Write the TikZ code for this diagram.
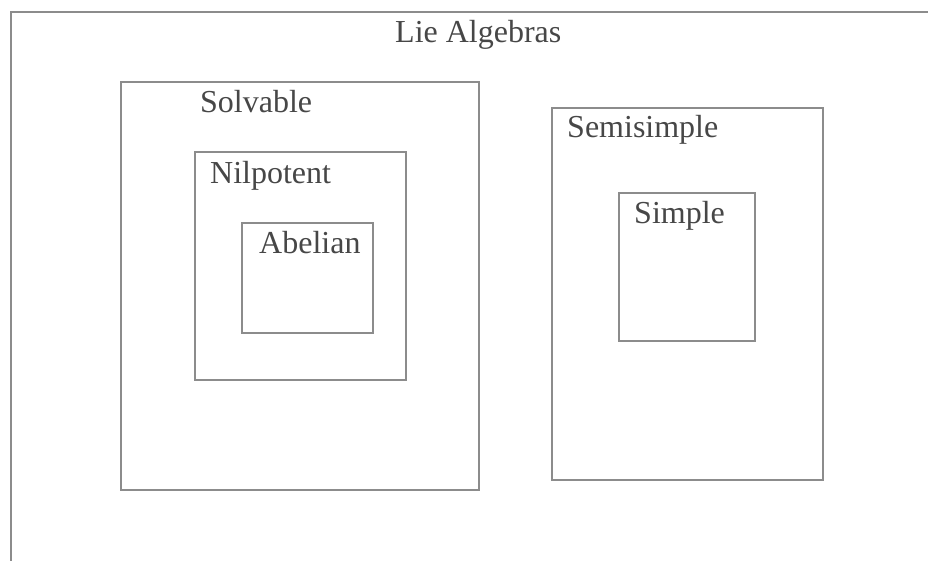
\documentclass[tikz,border=0pt]{standalone}
\usepackage{fontspec}
\setmainfont{Liberation Serif}
\definecolor{boxgray}{HTML}{8C8C8C}
\definecolor{textgray}{HTML}{474747}
\tikzset{
  setbox/.style={draw=boxgray, line width=1.4pt},
  setlabel/.style={inner sep=0pt, anchor=base west, text=textgray, font=\fontsize{32}{38}\selectfont}
}
\begin{document}
\begin{tikzpicture}[x=1pt,y=-1pt]
\useasboundingbox (0,0) rectangle (928,560);
\fill[white] (0,0) rectangle (928,560);
\begin{scope}
  \clip (0,0) rectangle (928,560);
  \draw[setbox] (11,12) rectangle (940,575);
\end{scope}
\draw[setbox] (121,82) rectangle (479,490);
\draw[setbox] (195,152) rectangle (406,380);
\draw[setbox] (242,223) rectangle (373,333);
\draw[setbox] (552,108) rectangle (823,480);
\draw[setbox] (619,193) rectangle (755,341);
\node[setlabel] (lie) at (395,42) {Lie Algebras};
\node[setlabel] (solv) at (200,112) {Solvable};
\node[setlabel] (nil) at (210,183) {Nilpotent};
\node[setlabel] (abel) at (259,253) {Abelian};
\node[setlabel] (semi) at (567,137) {Semisimple};
\node[setlabel] (simp) at (634,223) {Simple};
\end{tikzpicture}
\end{document}
